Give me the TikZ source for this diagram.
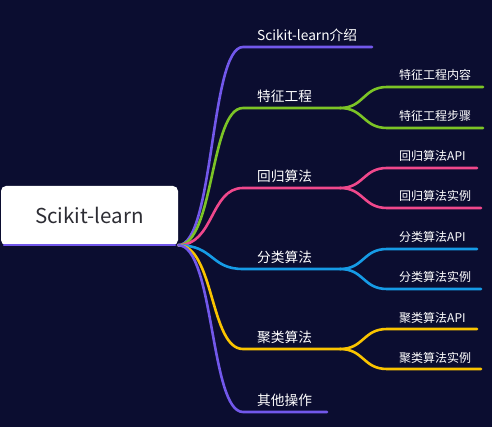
\documentclass[tikz,border=0pt]{standalone}
\usepackage{fontspec}
\setmainfont{Noto Sans CJK SC}
\definecolor{bgnavy}{RGB}{11,13,48}
\definecolor{mpurple}{RGB}{114,88,235}
\definecolor{mgreen}{RGB}{124,196,38}
\definecolor{mpink}{RGB}{240,72,140}
\definecolor{mblue}{RGB}{22,155,230}
\definecolor{myellow}{RGB}{250,196,0}
\definecolor{rootgray}{RGB}{45,45,52}
\begin{document}
\begin{tikzpicture}[x=1pt,y=-1pt,line cap=round,
	branch/.style={line width=2.6pt},
	topic/.style={text=white,font=\fontsize{13.7}{15}\selectfont,anchor=base west,inner sep=0pt},
	subtopic/.style={text=white,font=\fontsize{12}{14}\selectfont,anchor=base west,inner sep=0pt},
	rootbox/.style={fill=white,rounded corners=5pt,minimum width=177pt,minimum height=59pt,inner sep=0pt,text=rootgray,font=\fontsize{20.5}{24}\selectfont}]
	\fill[bgnavy] (0,0) rectangle (492,427);
	% root
	\node[rootbox] (root) at (89.5,215.5) {Scikit-learn};
	\draw[line width=2pt,mpurple] ([xshift=3pt]root.south west) -- ([xshift=-3pt]root.south east);
	% first level
	\coordinate (introA) at (243,47); \coordinate (introB) at (372,47);
	\coordinate (featA) at (243,108); \coordinate (featB) at (340,108);
	\coordinate (regA) at (243,188); \coordinate (regB) at (340,188);
	\coordinate (clsA) at (243,269); \coordinate (clsB) at (340,269);
	\coordinate (cluA) at (243,349); \coordinate (cluB) at (340,349);
	\coordinate (miscA) at (243,412); \coordinate (miscB) at (327,412);
	\node[topic] (intro) at (257,40.5) {Scikit-learn介绍};
	\node[topic] (feat) at (257,101.5) {特征工程};
	\node[topic] (reg) at (257,181.5) {回归算法};
	\node[topic] (cls) at (257,262.5) {分类算法};
	\node[topic] (clu) at (257,342.5) {聚类算法};
	\node[topic] (misc) at (257,405.5) {其他操作};
	\draw[branch,mpurple] (root.south east) .. controls +(36,0) and +(-33,0) .. (introA) -- (introB);
	\draw[branch,mgreen] (root.south east) .. controls +(36,0) and +(-33,0) .. (featA) -- (featB);
	\draw[branch,mpink] (root.south east) .. controls +(36,0) and +(-33,0) .. (regA) -- (regB);
	\draw[branch,mblue] (root.south east) .. controls +(36,0) and +(-33,0) .. (clsA) -- (clsB);
	\draw[branch,myellow] (root.south east) .. controls +(36,0) and +(-33,0) .. (cluA) -- (cluB);
	\draw[branch,mpurple] (root.south east) .. controls +(36,0) and +(-33,0) .. (miscA) -- (miscB);
	% second level
	\coordinate (featS1a) at (387,87); \coordinate (featS1b) at (483,87);
	\coordinate (featS2a) at (387,128); \coordinate (featS2b) at (483,128);
	\coordinate (regS1a) at (387,168); \coordinate (regS1b) at (477,168);
	\coordinate (regS2a) at (387,208); \coordinate (regS2b) at (481,208);
	\coordinate (clsS1a) at (387,249); \coordinate (clsS1b) at (477,249);
	\coordinate (clsS2a) at (387,289); \coordinate (clsS2b) at (481,289);
	\coordinate (cluS1a) at (387,329); \coordinate (cluS1b) at (477,329);
	\coordinate (cluS2a) at (387,369); \coordinate (cluS2b) at (481,369);
	\node[subtopic] (featS1) at (399,80) {特征工程内容};
	\node[subtopic] (featS2) at (399,121) {特征工程步骤};
	\node[subtopic] (regS1) at (399,161) {回归算法API};
	\node[subtopic] (regS2) at (399,201) {回归算法实例};
	\node[subtopic] (clsS1) at (399,242) {分类算法API};
	\node[subtopic] (clsS2) at (399,282) {分类算法实例};
	\node[subtopic] (cluS1) at (399,322) {聚类算法API};
	\node[subtopic] (cluS2) at (399,362) {聚类算法实例};
	\draw[branch,mgreen] (featB) .. controls +(24,0) and +(-24,0) .. (featS1a) -- (featS1b);
	\draw[branch,mgreen] (featB) .. controls +(24,0) and +(-24,0) .. (featS2a) -- (featS2b);
	\draw[branch,mpink] (regB) .. controls +(24,0) and +(-24,0) .. (regS1a) -- (regS1b);
	\draw[branch,mpink] (regB) .. controls +(24,0) and +(-24,0) .. (regS2a) -- (regS2b);
	\draw[branch,mblue] (clsB) .. controls +(24,0) and +(-24,0) .. (clsS1a) -- (clsS1b);
	\draw[branch,mblue] (clsB) .. controls +(24,0) and +(-24,0) .. (clsS2a) -- (clsS2b);
	\draw[branch,myellow] (cluB) .. controls +(24,0) and +(-24,0) .. (cluS1a) -- (cluS1b);
	\draw[branch,myellow] (cluB) .. controls +(24,0) and +(-24,0) .. (cluS2a) -- (cluS2b);
\end{tikzpicture}
\end{document}
